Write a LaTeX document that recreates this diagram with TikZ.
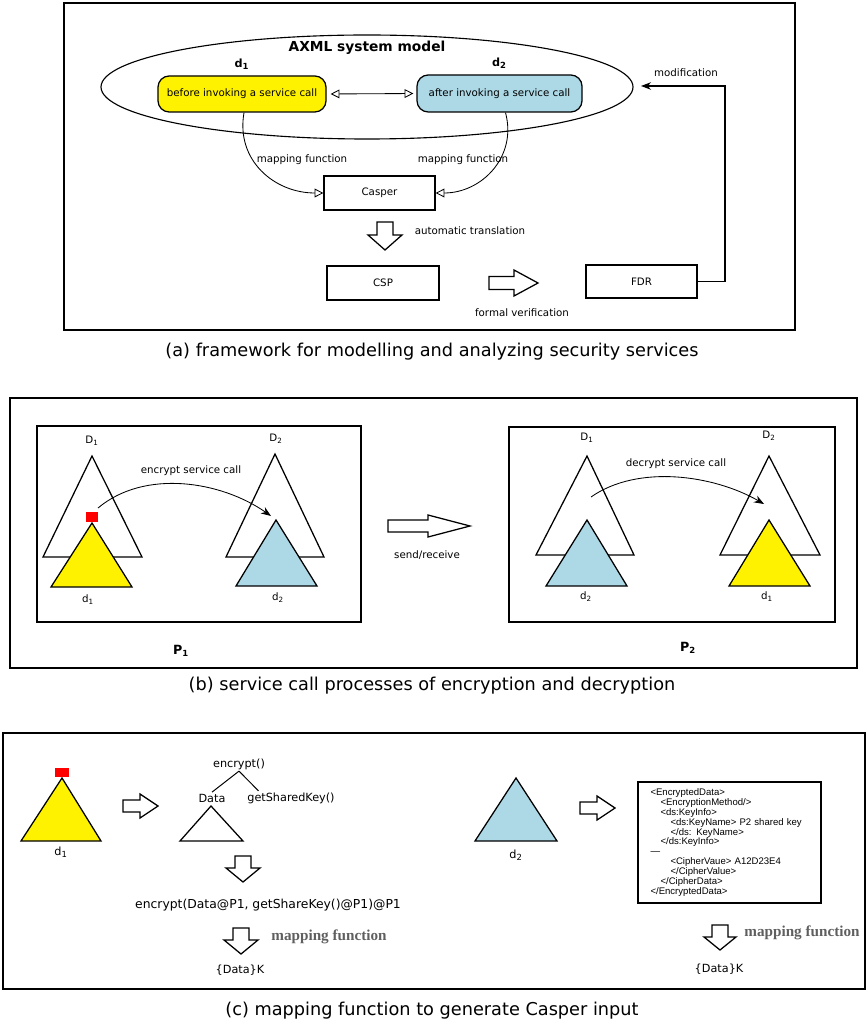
\documentclass[tikz,border=0pt]{standalone}
\usepackage{fontspec}
\setmainfont{DejaVu Sans}
\newfontfamily\xmlfont{Liberation Sans}
\newfontfamily\mapfont{Liberation Serif}
\usepackage{xcolor}
\usepackage{tikz}
\usetikzlibrary{arrows.meta, positioning}
\definecolor{dblue}{RGB}{173,216,230}
\definecolor{mapgray}{RGB}{95,95,95}
\tikzset{
  pics/hollowarrow/.style n args={4}{code={
    \draw[line width=0.9pt, fill=white, line join=miter]
      (0,-#2) -- (#3,-#2) -- (#3,-#4) -- (#1,0) -- (#3,#4) -- (#3,#2) -- (0,#2) -- cycle;
  }}
}

\begin{document}
\begin{tikzpicture}[x=0.25mm, y=-0.25mm,
  frame/.style={line width=1.1pt},
  tri/.style={line width=0.9pt, line join=miter},
  rbox/.style={draw, line width=0.9pt, rounded corners=2.8mm, font=\fontsize{7.3}{8.5}\selectfont},
  sbox/.style={draw, line width=0.9pt, font=\fontsize{7.3}{8.5}\selectfont},
  lbl/.style={font=\fontsize{7.3}{8.5}\selectfont, inner sep=1pt},
  txt/.style={font=\fontsize{8}{9.5}\selectfont, inner sep=1pt},
  capt/.style={font=\fontsize{12.6}{14}\selectfont},
  mapfn/.style={font=\mapfont\bfseries\fontsize{10.8}{12}\selectfont, text=mapgray},
  map/.style={line width=0.6pt, -{Triangle[open, length=2.2mm, width=2.2mm]}},
  call/.style={line width=0.6pt, -{Stealth[length=2.5mm]}}]
  \useasboundingbox (0,0) rectangle (866,1024);

  % ---- (a) framework ----
  \draw[frame] (64,3) rectangle (795,330);
  \draw[line width=0.8pt] (367,87) ellipse [x radius=266, y radius=52];
  \node[font=\bfseries\fontsize{9.8}{11}\selectfont] (axml) at (367,48) {AXML system model};
  \node[rbox, fill=yellow, minimum width=42mm, minimum height=9mm] (before) at (242,94)
    {before invoking a service call};
  \node[rbox, fill=dblue, minimum width=41.25mm, minimum height=9.25mm] (after) at (499.5,93.5)
    {after invoking a service call};
  \node[font=\bfseries\fontsize{8}{9}\selectfont, above=0.5pt of before] (d1a) {d\textsubscript{1}};
  \node[font=\bfseries\fontsize{8}{9}\selectfont, above=0.5pt of after] (d2a) {d\textsubscript{2}};
  \draw[line width=0.6pt, {Triangle[open, length=2.2mm, width=2.2mm]}-{Triangle[open, length=2.2mm, width=2.2mm]},
    shorten <=1mm, shorten >=0.75mm] (before.east) -- (after.west);
  \node[sbox, minimum width=27.75mm, minimum height=8.5mm] (casper) at (379.5,193) {Casper};
  \draw[map] ([xshift=0.5mm]before.south) to[out=-100, in=180, looseness=1.1] (casper.west);
  \draw[map] ([xshift=1.5mm]after.south) to[out=-75, in=0, looseness=1.1] (casper.east);
  \node[lbl] (mapl) at (302,160) {mapping function};
  \node[lbl] (mapr) at (463,160) {mapping function};
  \pic[rotate=-90] at (385,222) {hollowarrow={28}{8}{13}{17}};
  \node[lbl] (autotr) at (470,231) {automatic translation};
  \node[sbox, minimum width=28mm, minimum height=8.5mm] (csp) at (383,283) {CSP};
  \pic at (489,283) {hollowarrow={49}{6.5}{25}{13}};
  \node[lbl] (formver) at (522,313) {formal verification};
  \node[sbox, minimum width=27.75mm, minimum height=8.25mm] (fdr) at (641.5,281.5) {FDR};
  \coordinate (modcorner) at (725,86);
  \coordinate (modend) at (641,86);
  \draw[line width=0.8pt, -{Stealth[length=2.5mm]}] (fdr.east) -| (modcorner) -- (modend);
  \node[lbl] (modlbl) at (686,73) {modification};
  \node[capt] (capa) at (432,352) {(a) framework for modelling and analyzing security services};

  % ---- (b) encryption / decryption ----
  \draw[frame] (10,398) rectangle (857,668);
  \draw[frame] (37,426) rectangle (361,622);
  \draw[frame] (509,427) rectangle (835,622);
  % P1
  \draw[tri] (92,456) -- (142,557) -- (43,557) -- cycle;
  \draw[tri, fill=yellow] (92,523) -- (132,587) -- (51,587) -- cycle;
  \fill[red] (86,512) rectangle (98,522);
  \draw[tri] (275,454) -- (324,557) -- (226,557) -- cycle;
  \draw[tri, fill=dblue] (276,520) -- (317,586) -- (236,586) -- cycle;
  \node[lbl] (pD1) at (92,441) {D\textsubscript{1}};
  \node[lbl] (pd1) at (88,600) {d\textsubscript{1}};
  \node[lbl] (pD2) at (276,439) {D\textsubscript{2}};
  \node[lbl] (pd2) at (278,598) {d\textsubscript{2}};
  \coordinate (encfrom) at (98,508);
  \coordinate (encto) at (271,516);
  \draw[call] (encfrom) to[out=40, in=145, looseness=0.9] (encto);
  \node[lbl] (enccall) at (191,471) {encrypt service call};
  \pic at (388,526) {hollowarrow={82}{6}{40}{11}};
  \node[lbl] (sendrec) at (427,555) {send/receive};
  % P2
  \draw[tri] (587,456) -- (634,555) -- (536,555) -- cycle;
  \draw[tri, fill=dblue] (587,520) -- (627,586) -- (546,586) -- cycle;
  \draw[tri] (769,456) -- (820,555) -- (720,555) -- cycle;
  \draw[tri, fill=yellow] (769,520) -- (810,586) -- (729,586) -- cycle;
  \node[lbl] (qD1) at (587,438) {D\textsubscript{1}};
  \node[lbl] (qd2) at (586,597) {d\textsubscript{2}};
  \node[lbl] (qD2) at (769,436) {D\textsubscript{2}};
  \node[lbl] (qd1) at (767,597) {d\textsubscript{1}};
  \coordinate (decfrom) at (591,497);
  \coordinate (decto) at (764,504);
  \draw[call] (decfrom) to[out=35, in=150, looseness=0.85] (decto);
  \node[lbl] (deccall) at (676,464) {decrypt service call};
  \node[font=\bfseries\fontsize{9}{10}\selectfont] (p1) at (181,651) {P\textsubscript{1}};
  \node[font=\bfseries\fontsize{9}{10}\selectfont] (p2) at (688,648) {P\textsubscript{2}};
  \node[capt] (capb) at (432,686) {(b) service call processes of encryption and decryption};

  % ---- (c) mapping to Casper ----
  \draw[frame] (3,733) rectangle (865,989);
  \draw[tri, fill=yellow] (62,778) -- (101,841) -- (21,841) -- cycle;
  \fill[red] (55,768) rectangle (69,777);
  \node[txt] (cd1) at (61,852) {d\textsubscript{1}};
  \pic at (123,806) {hollowarrow={35}{6}{17}{12}};
  \node[txt] (enc) at (239,764) {encrypt()};
  \node[txt] (data) at (212,798) {Data};
  \node[txt] (gsk) at (291,798) {getSharedKey()};
  \draw[line width=0.7pt] (enc.south) -- (data.north);
  \draw[line width=0.7pt] (enc.south) -- ([xshift=3.2mm]gsk.north west);
  \draw[tri] (211,806) -- (243,841) -- (180,841) -- cycle;
  \pic[rotate=-90] at (243,856) {hollowarrow={26}{8}{12}{17}};
  \node[txt, font=\fontsize{8.8}{10}\selectfont] (encexpr) at (268,905) {encrypt(Data@P1, getShareKey()@P1)@P1};
  \pic[rotate=-90] at (241,928) {hollowarrow={26}{8}{12}{17}};
  \node[mapfn] (mapc1) at (329,937) {mapping function};
  \node[txt] (datak1) at (240,970) {\{Data\}K};
  % right half
  \draw[tri, fill=dblue] (516,778) -- (557,841) -- (475,841) -- cycle;
  \node[txt] (cd2) at (516,855) {d\textsubscript{2}};
  \pic at (580,808) {hollowarrow={35}{6}{17}{12}};
  \node[draw, line width=0.9pt, minimum width=45.75mm, minimum height=30.25mm,
    text width=39.5mm, inner xsep=3.1mm, align=left,
    font=\xmlfont\fontsize{6.8}{7.05}\selectfont] (xmlbox) at (729.5,842.5)
    {<EncryptedData>\\
     \hspace*{2.5mm}<EncryptionMethod/>\\
     \hspace*{2.5mm}<ds:KeyInfo>\\
     \hspace*{5mm}<ds:KeyName> P2 shared key\\
     \hspace*{5mm}</ds: KeyName>\\
     \hspace*{2.5mm}</ds:KeyInfo>\\
     —\\
     \hspace*{5mm}<CipherVaue> A12D23E4\\
     \hspace*{5mm}</CipherValue>\\
     \hspace*{2.5mm}</CipherData>\\
     </EncryptedData>};
  \pic[rotate=-90] at (720,925) {hollowarrow={25}{8}{12}{16}};
  \node[mapfn] (mapc2) at (802,933) {mapping function};
  \node[txt] (datak2) at (719,969) {\{Data\}K};
  \node[capt] (capc) at (432,1011) {(c) mapping function to generate Casper input};
\end{tikzpicture}
\end{document}
